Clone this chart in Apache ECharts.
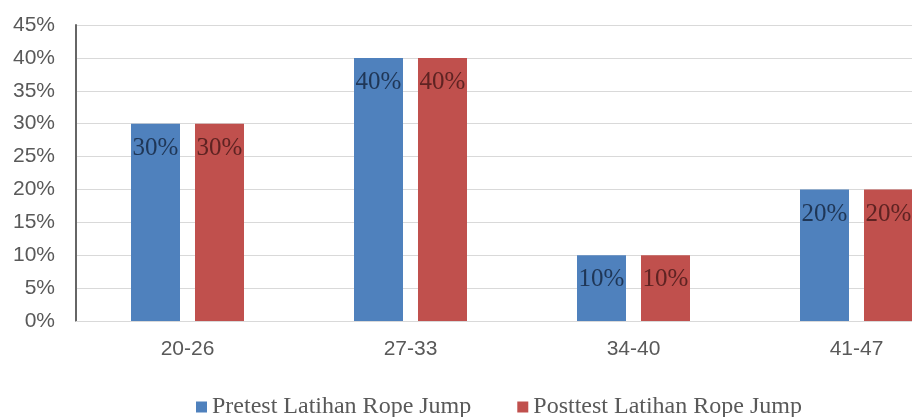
<!DOCTYPE html>
<html>
<head>
<meta charset="utf-8">
<script src="https://cdn.jsdelivr.net/npm/echarts@6/dist/echarts.min.js"></script>
<style>html,body{margin:0;padding:0;background:#fff;overflow:hidden;width:912px;height:417px;}#c{width:968px;height:417px;}</style>
</head>
<body>
<div id="c"></div>
<script>
var categories = ['20-26', '27-33', '34-40', '41-47'];
var pretest = [30, 40, 10, 20];
var posttest = [30, 40, 10, 20];
var seriesNames = ['Pretest Latihan Rope Jump', 'Posttest Latihan Rope Jump'];
var yTicks = [0, 5, 10, 15, 20, 25, 30, 35, 40, 45];

var chart = echarts.init(document.getElementById('c'));
var labelCommon = {
  show: true,
  position: 'insideTop',
  distance: 12,
  fontFamily: 'Liberation Serif',
  fontSize: 25,
  formatter: function (p) { return p.value + '%'; }
};
chart.setOption({
  animation: false,
  grid: { left: 76, top: 25, right: 0, height: 296, containLabel: false },
  legend: {
    left: 191, top: 390,
    itemWidth: 11, itemHeight: 11, itemGap: 46,
    icon: 'rect',
    textStyle: { fontFamily: 'Liberation Serif', fontSize: 24, color: '#595959' },
    data: seriesNames
  },
  xAxis: {
    type: 'category',
    data: categories,
    axisLine: { lineStyle: { color: '#d9d9d9', width: 1 } },
    axisTick: { show: false },
    axisLabel: { fontFamily: 'Liberation Sans', fontSize: 21, color: '#595959', margin: 18 }
  },
  yAxis: {
    type: 'value',
    min: yTicks[0], max: yTicks[yTicks.length - 1], interval: 5,
    axisLine: { show: true, lineStyle: { color: '#666666', width: 2 } },
    axisTick: { show: false },
    splitLine: { lineStyle: { color: '#d9d9d9', width: 1 } },
    axisLabel: { fontFamily: 'Liberation Sans', fontSize: 21, color: '#595959', margin: 21,
      formatter: function (v) { return v + '%'; } }
  },
  series: [
    { name: seriesNames[0], type: 'bar', data: pretest, barWidth: 49, barGap: '30.6%',
      itemStyle: { color: '#4f81bd' },
      label: Object.assign({}, labelCommon, { color: '#1f3656' }) },
    { name: seriesNames[1], type: 'bar', data: posttest, barWidth: 49, barGap: '30.6%',
      itemStyle: { color: '#c0504d' },
      label: Object.assign({}, labelCommon, { color: '#5e2322' }) }
  ]
});
</script>
</body>
</html>
